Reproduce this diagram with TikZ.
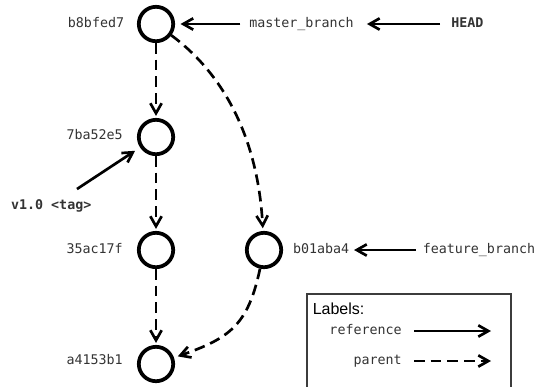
\documentclass[tikz,border=0pt]{standalone}
\usepackage{fontspec}
\setmonofont{DejaVu Sans Mono}
\setsansfont{Liberation Sans}
\usetikzlibrary{arrows.meta}
\definecolor{txt}{RGB}{51,51,51}
\definecolor{boxc}{RGB}{60,60,60}
\begin{document}
\begin{tikzpicture}[x=0.75pt,y=-0.75pt,
  commit/.style={circle,draw=black,line width=2.8pt,minimum size=25.8pt,inner sep=0pt},
  lbl/.style={font=\fontsize{10}{12}\selectfont\ttfamily,text=txt,inner sep=0pt,text height=7.3pt,text depth=1.5pt},
  blbl/.style={lbl,font=\fontsize{10}{12}\selectfont\ttfamily\bfseries},
  ref/.style={line width=2pt,-{Straight Barb[length=7.5pt,width=8.5pt]}},
  par/.style={ref,dash pattern=on 8pt off 4.5pt},
]
\useasboundingbox (0,0) rectangle (536,386);

% commits
\node[commit] (c1) at (156,24) {};
\node[commit] (c2) at (156,137) {};
\node[commit] (c3) at (156,250) {};
\node[commit] (c4) at (264,250) {};
\node[commit] (c5) at (156,364) {};

% commit labels
\node[lbl,anchor=east] (t1) at (124.4,24) {b8bfed7};
\node[lbl,anchor=east] (t2) at (123,136) {7ba52e5};
\node[lbl,anchor=east] (t3) at (123,250) {35ac17f};
\node[lbl,anchor=west] (t4) at (292.8,250) {b01aba4};
\node[lbl,anchor=east] (t5) at (123,361) {a4153b1};

% references
\node[lbl,anchor=west] (master) at (249,24) {master\_branch};
\node[blbl,anchor=west] (head) at (451,24) {HEAD};
\node[lbl,anchor=west] (feat) at (422.5,250) {feature\_branch};
\node[blbl] (tag) at (51.2,206) {v1.0 <tag>};

\draw[ref,shorten <=6.4pt,shorten >=4.1pt] (master) -- (c1);
\draw[ref,shorten <=8.2pt,shorten >=9.8pt] (head) -- (master);
\draw[ref,shorten <=4.9pt,shorten >=3.4pt] (feat) -- (t4);
\draw[ref,shorten <=14.8pt,shorten >=4.5pt] (tag) -- (c2);

% parents
\draw[par,shorten >=1.5pt] (c1) -- (c2);
\draw[par,shorten >=1.5pt] (c2) -- (c3);
\draw[par,shorten >=1.5pt] (c3) -- (c5);
\draw[par,shorten >=2pt] (c1) .. controls (225,75) and (258,140) .. (c4);
\draw[par,shorten >=3pt] (c4) .. controls (248,325) and (230,338) .. (c5);

% legend
\draw[boxc,line width=1pt] (307,294) rectangle (511,420);
\node[font=\sffamily\fontsize{12}{14}\selectfont,anchor=west,inner sep=0pt] (legtitle) at (312.5,309) {Labels:};
\node[lbl,anchor=east] (lref) at (402,331) {reference};
\coordinate (lrefend) at (491,331);
\draw[ref,shorten <=9pt] (lref) -- (lrefend);
\node[lbl,anchor=east] (lpar) at (402,361) {parent};
\coordinate (lparend) at (491,361);
\draw[par,shorten <=9pt] (lpar) -- (lparend);
\end{tikzpicture}
\end{document}
